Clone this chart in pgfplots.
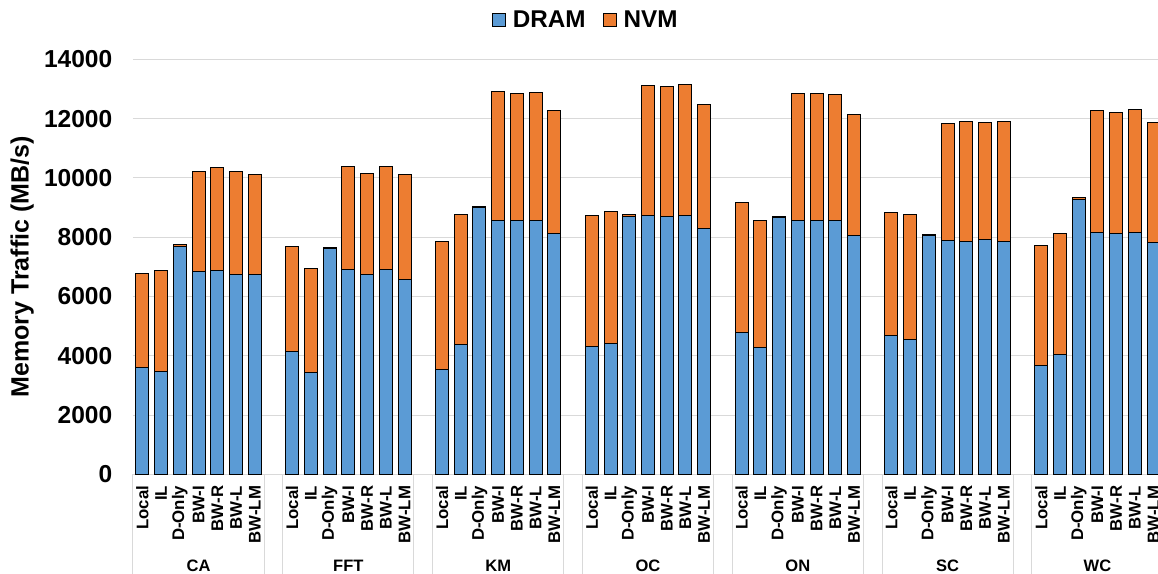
\documentclass[border=0pt]{standalone}
\usepackage{fontspec}
\setmainfont{Liberation Sans}
\usepackage{pgfplots}
\pgfplotsset{compat=1.18}
\usepackage{pgfplotstable}
\definecolor{dram}{HTML}{5B9BD5}
\definecolor{nvm}{HTML}{ED7D31}
\definecolor{gridc}{HTML}{D9D9D9}

\pgfplotstableread{
x dram nvm
0 3620 3170
1 3460 3410
2 7700 50
3 6840 3390
4 6870 3470
5 6740 3490
6 6740 3390
8 4160 3540
9 3450 3490
10 7610 40
11 6900 3480
12 6750 3410
13 6920 3480
14 6580 3540
16 3550 4310
17 4370 4410
18 8990 60
19 8570 4340
20 8550 4310
21 8570 4320
22 8110 4150
24 4300 4440
25 4420 4450
26 8710 40
27 8740 4390
28 8700 4370
29 8740 4400
30 8310 4150
32 4800 4380
33 4270 4290
34 8660 40
35 8550 4310
36 8550 4290
37 8560 4270
38 8060 4070
40 4690 4160
41 4540 4240
42 8050 40
43 7900 3920
44 7870 4040
45 7920 3940
46 7870 4030
48 3660 4050
49 4060 4070
50 9280 50
51 8150 4120
52 8120 4100
53 8150 4150
54 7820 4040
}\data

\begin{document}
\begin{tikzpicture}
\begin{axis}[
  at={(0,0)}, anchor=south west,
  scale only axis, width=772.5pt, height=311.3pt,
  ybar stacked, bar width=0.69,
  xmin=-0.5, xmax=54.5, ymin=0, ymax=14000,
  clip=false,
  ytick={0,2000,...,14000},
  scaled y ticks=false,
  ymajorgrids, grid style={gridc, line width=0.75pt},
  axis lines*=left,
  y axis line style={draw=none},
  x axis line style={gridc, line width=0.75pt},
  major tick length=0pt,
  /pgf/number format/1000 sep={},
  /pgf/number format/assume math mode=true,
  yticklabel style={font=\bfseries\fontsize{18.4}{19}\selectfont},
  yticklabel shift=12pt,
  xtick=data,
  xticklabels={Local,IL,D-Only,BW-I,BW-R,BW-L,BW-LM,
               Local,IL,D-Only,BW-I,BW-R,BW-L,BW-LM,
               Local,IL,D-Only,BW-I,BW-R,BW-L,BW-LM,
               Local,IL,D-Only,BW-I,BW-R,BW-L,BW-LM,
               Local,IL,D-Only,BW-I,BW-R,BW-L,BW-LM,
               Local,IL,D-Only,BW-I,BW-R,BW-L,BW-LM,
               Local,IL,D-Only,BW-I,BW-R,BW-L,BW-LM},
  xticklabel style={rotate=90, anchor=east, font=\bfseries\fontsize{12.6}{13}\selectfont},
  xticklabel shift=5pt,
  ylabel={Memory Traffic (MB/s)},
  ylabel style={at={(axis description cs:-0.1077,0.5)}, anchor=center, font=\bfseries\fontsize{18.75}{19}\selectfont},
  legend style={at={(0.44,1.0947)}, anchor=center, draw=none, fill=none,
    legend columns=2, font=\bfseries\fontsize{18.2}{19}\selectfont,
    /tikz/every odd column/.append style={column sep=3pt},
    /tikz/every even column/.append style={column sep=11pt}},
  legend image code/.code={\draw[#1] (0pt,-4.9pt) rectangle (9.75pt,4.9pt);},
]
\addplot[fill=dram, draw=black, line width=0.75pt] table[x=x, y=dram] {\data};
\addplot[fill=nvm, draw=black, line width=0.75pt] table[x=x, y=nvm] {\data};
\legend{DRAM, NVM}
\draw[gridc, line width=0.75pt]
  (axis cs:-0.5,0) -- ++(0pt,-74.7pt)
  (axis cs:6.5,0) -- ++(0pt,-74.7pt)
  (axis cs:7.5,0) -- ++(0pt,-74.7pt)
  (axis cs:14.5,0) -- ++(0pt,-74.7pt)
  (axis cs:15.5,0) -- ++(0pt,-74.7pt)
  (axis cs:22.5,0) -- ++(0pt,-74.7pt)
  (axis cs:23.5,0) -- ++(0pt,-74.7pt)
  (axis cs:30.5,0) -- ++(0pt,-74.7pt)
  (axis cs:31.5,0) -- ++(0pt,-74.7pt)
  (axis cs:38.5,0) -- ++(0pt,-74.7pt)
  (axis cs:39.5,0) -- ++(0pt,-74.7pt)
  (axis cs:46.5,0) -- ++(0pt,-74.7pt)
  (axis cs:47.5,0) -- ++(0pt,-74.7pt);
\node[yshift=-68.7pt, font=\bfseries\fontsize{12.4}{13}\selectfont] at (axis cs:3,0) {CA};
\node[yshift=-68.7pt, font=\bfseries\fontsize{12.4}{13}\selectfont] at (axis cs:11,0) {FFT};
\node[yshift=-68.7pt, font=\bfseries\fontsize{12.4}{13}\selectfont] at (axis cs:19,0) {KM};
\node[yshift=-68.7pt, font=\bfseries\fontsize{12.4}{13}\selectfont] at (axis cs:27,0) {OC};
\node[yshift=-68.7pt, font=\bfseries\fontsize{12.4}{13}\selectfont] at (axis cs:35,0) {ON};
\node[yshift=-68.7pt, font=\bfseries\fontsize{12.4}{13}\selectfont] at (axis cs:43,0) {SC};
\node[yshift=-68.7pt, font=\bfseries\fontsize{12.4}{13}\selectfont] at (axis cs:51,0) {WC};
\end{axis}
\pgfresetboundingbox
\useasboundingbox (-99.75pt,-74.7pt) rectangle (768.75pt,355.8pt);
\end{tikzpicture}
\end{document}
